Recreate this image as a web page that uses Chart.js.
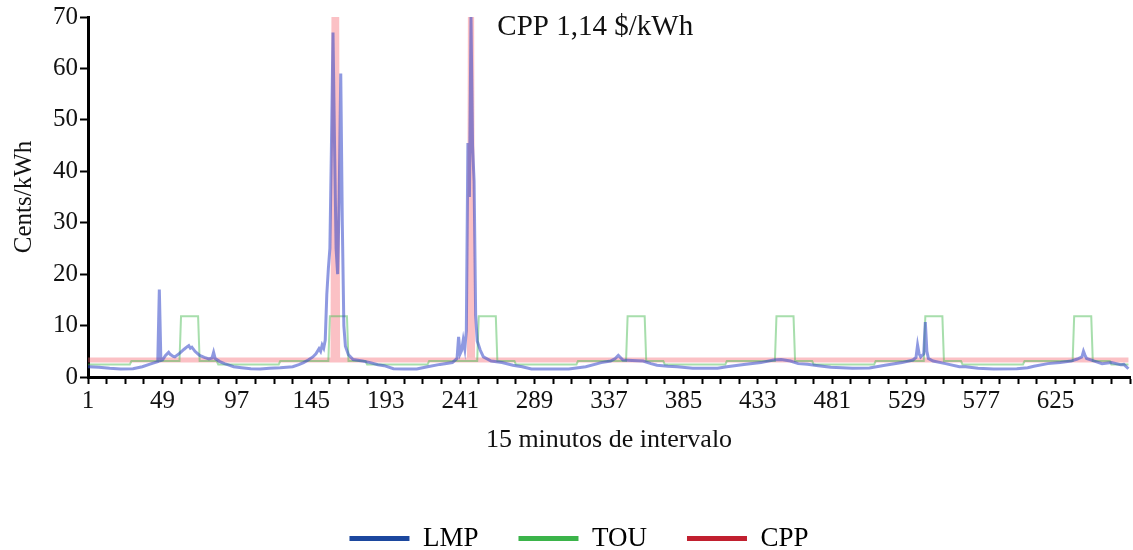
<!DOCTYPE html>
<html>
<head>
<meta charset="utf-8">
<title>LMP / TOU / CPP</title>
<script src="https://cdn.jsdelivr.net/npm/chart.js@4.4.1/dist/chart.umd.min.js"></script>
<style>
  html, body { margin: 0; padding: 0; background: #fff; }
  #wrap { width: 1133px; height: 550px; position: relative; }
</style>
</head>
<body>
<div id="wrap"><canvas id="priceChart"></canvas></div>
<script>
// Price signals over one week of 15-minute intervals (1..672), cents/kWh

const xTickLabels = [1, 49, 97, 145, 193, 241, 289, 337, 385, 433, 481, 529, 577, 625];
const seriesNames = ["LMP", "TOU", "CPP"];
const legendColors = ["#1c479e", "#3bb44a", "#c1202f"];

// LMP, read at the turning points of the curve
const lmpIntervals = [
  1, 8, 15, 22, 30, 36, 41, 44, 46, 47, 48, 49, 51, 53, 54, 56, 57, 60, 63, 65, 66, 67, 68, 70, 73, 76, 79, 81, 82, 83, 86, 89, 91, 95, 100, 106, 112,
  118, 125, 133, 137, 140, 143, 146, 148, 150, 151, 152, 153, 154, 155, 156, 157, 158, 159, 160, 161, 162, 163, 164, 165, 166, 167, 169, 172, 178, 183, 188, 192, 198, 205, 213, 220, 228,
  236, 239, 240, 241, 242, 243, 244, 245, 246, 247, 248, 249, 250, 251, 252, 254, 256, 261, 268, 275, 281, 287, 300, 311, 322, 332,
  338, 341, 343, 346, 352, 359, 364, 368, 375, 381, 391, 400, 407, 413,
  424, 435, 443, 448, 454, 459, 465, 472, 480, 494, 505, 515,
  526, 533, 535, 536, 537, 538, 540, 541, 542, 543, 546, 554, 563, 567, 575, 585, 600, 607, 611, 620,
  628, 635, 639, 642, 643, 644, 645, 650, 655, 661, 667, 669, 672
];
const lmpValues = [
  2.0, 1.9, 1.7, 1.55, 1.6, 2.0, 2.5, 2.8, 3.0, 17.0, 3.2, 3.3, 4.2, 4.8, 4.4, 4.0, 3.9, 4.6, 5.4, 5.9, 6.1, 5.6, 5.8, 5.0, 4.2, 3.8, 3.5, 3.7, 4.8, 3.6, 3.0, 2.6, 2.4, 2.0, 1.8, 1.6, 1.55,
  1.7, 1.8, 2.0, 2.4, 2.8, 3.3, 3.9, 4.5, 5.5, 5.0, 6.2, 5.6, 7.2, 16.0, 21.0, 25.0, 45.0, 67.0, 45.0, 25.0, 20.0, 35.0, 59.0, 30.0, 10.0, 6.0, 4.3, 3.4, 3.1, 2.8, 2.4, 2.2, 1.6, 1.55, 1.55, 2.0, 2.45,
  2.8, 3.6, 7.8, 4.5, 5.2, 7.2, 5.5, 9.0, 45.5, 35.0, 70.0, 45.0, 38.0, 12.0, 7.0, 5.2, 3.9, 3.1, 2.8, 2.3, 2.0, 1.55, 1.55, 1.55, 2.0, 2.8,
  3.1, 3.6, 4.2, 3.3, 3.2, 3.1, 2.6, 2.3, 2.1, 2.0, 1.7, 1.7, 1.7, 2.0,
  2.45, 2.8, 3.3, 3.4, 3.1, 2.6, 2.5, 2.2, 1.9, 1.7, 1.75, 2.3,
  2.8, 3.3, 3.8, 6.2, 4.5, 3.9, 4.5, 10.7, 5.0, 3.6, 3.1, 2.6, 2.0, 2.0, 1.7, 1.55, 1.6, 1.8, 2.1, 2.6,
  2.8, 3.1, 3.5, 3.9, 5.0, 4.2, 3.6, 3.1, 2.6, 2.8, 2.4, 2.45, 1.6
];

// TOU tariff: off-peak / mid-peak / on-peak steps, day by day
const touIntervals = [
  1, 28, 29, 60, 61, 72, 73, 84, 85, 96,
  97, 124, 125, 156, 157, 168, 169, 180, 181, 192,
  193, 220, 221, 252, 253, 264, 265, 276, 277, 288,
  289, 316, 317, 348, 349, 360, 361, 372, 373, 384,
  385, 412, 413, 444, 445, 456, 457, 468, 469, 480,
  481, 508, 509, 540, 541, 552, 553, 564, 565, 576,
  577, 604, 605, 636, 637, 648, 649, 660, 661, 672
];
const touValues = [
  2.45, 2.45, 3.1, 3.1, 11.8, 11.8, 3.1, 3.1, 2.45, 2.45,
  2.45, 2.45, 3.1, 3.1, 11.8, 11.8, 3.1, 3.1, 2.45, 2.45,
  2.45, 2.45, 3.1, 3.1, 11.8, 11.8, 3.1, 3.1, 2.45, 2.45,
  2.45, 2.45, 3.1, 3.1, 11.8, 11.8, 3.1, 3.1, 2.45, 2.45,
  2.45, 2.45, 3.1, 3.1, 11.8, 11.8, 3.1, 3.1, 2.45, 2.45,
  2.45, 2.45, 3.1, 3.1, 11.8, 11.8, 3.1, 3.1, 2.45, 2.45,
  2.45, 2.45, 3.1, 3.1, 11.8, 11.8, 3.1, 3.1, 2.45, 2.45
];

// CPP: flat rate with two critical-peak events at 114 c/kWh (clipped at 70)
const cppIntervals = [1, 159, 160, 161, 162, 247, 248, 249, 672];
const cppValues = [3.3, 3.3, 114, 114, 3.3, 3.3, 114, 3.3, 3.3];

const noteLabel = { text: "CPP 1,14 $/kWh", interval: 265, value: 68 };

const SERIF = "'Liberation Serif', 'DejaVu Serif', serif";
Chart.defaults.font.family = SERIF;
Chart.defaults.color = "#111";

const toPoints = (xs, ys) => xs.map((x, i) => ({ x, y: ys[i] }));

// tick marks every 12 intervals (3 hours), label every 48
const xTickValues = [];
for (let v = 1; v <= 673; v += 12) xTickValues.push(v);

const notePlugin = {
  id: "notePlugin",
  afterDatasetsDraw(chart) {
    const { ctx, scales: { x, y } } = chart;
    ctx.save();
    ctx.font = "29px " + SERIF;
    ctx.fillStyle = "#111";
    ctx.textAlign = "left";
    ctx.textBaseline = "middle";
    ctx.fillText(noteLabel.text, x.getPixelForValue(noteLabel.interval), y.getPixelForValue(noteLabel.value));
    ctx.restore();
  }
};

const ctx = document.getElementById("priceChart").getContext("2d");
new Chart(ctx, {
  type: "line",
  data: {
    datasets: [
      {
        label: seriesNames[0],
        data: toPoints(lmpIntervals, lmpValues),
        borderColor: "rgba(50, 70, 200, 0.55)",
        borderWidth: 3
      },
      {
        label: seriesNames[1],
        data: toPoints(touIntervals, touValues),
        borderColor: "rgba(80, 190, 90, 0.5)",
        borderWidth: 2
      },
      {
        label: seriesNames[2],
        data: toPoints(cppIntervals, cppValues),
        borderColor: "rgba(245, 100, 110, 0.4)",
        borderWidth: 5
      }
    ]
  },
  options: {
    responsive: true,
    maintainAspectRatio: false,
    animation: false,
    elements: { point: { radius: 0 }, line: { tension: 0 } },
    // left padding nudges the centred legend to the right; y axis width makes up for it
    layout: { padding: { top: 0, right: 3, bottom: -12, left: 28 } },
    plugins: {
      tooltip: { enabled: false },
      legend: {
        position: "bottom",
        labels: {
          boxWidth: 60,
          boxHeight: 5,
          padding: 40,
          font: { size: 27 },
          color: "#111",
          generateLabels(chart) {
            return chart.data.datasets.map((ds, i) => ({
              text: ds.label,
              fillStyle: legendColors[i],
              strokeStyle: legendColors[i],
              lineWidth: 0,
              hidden: false,
              datasetIndex: i
            }));
          }
        }
      }
    },
    scales: {
      x: {
        type: "linear",
        min: 1,
        max: 673,
        afterBuildTicks(scale) {
          scale.ticks = xTickValues.map(v => ({ value: v }));
        },
        afterFit(scale) { scale.height = 108; },
        ticks: {
          autoSkip: false,
          maxRotation: 0,
          padding: 2,
          font: { size: 25 },
          color: "#111",
          callback: (v) => (xTickLabels.includes(v) ? String(v) : "")
        },
        grid: { drawOnChartArea: false, tickLength: 7, tickColor: "#000", tickWidth: 2 },
        border: { color: "#000", width: 3 },
        title: {
          display: true,
          text: "15 minutos de intervalo",
          font: { size: 26 },
          color: "#111",
          padding: { top: 10, bottom: 29 }
        }
      },
      y: {
        min: 0,
        max: 70,
        afterFit(scale) { scale.width = 60; },
        ticks: { stepSize: 10, padding: 2, font: { size: 25 }, color: "#111" },
        grid: { drawOnChartArea: false, tickLength: 8, tickColor: "#000", tickWidth: 2 },
        border: { color: "#000", width: 3 },
        title: {
          display: true,
          text: "Cents/kWh",
          font: { size: 25 },
          color: "#111",
          padding: { top: -19, bottom: 0 }
        }
      }
    }
  },
  plugins: [notePlugin]
});
</script>
</body>
</html>
